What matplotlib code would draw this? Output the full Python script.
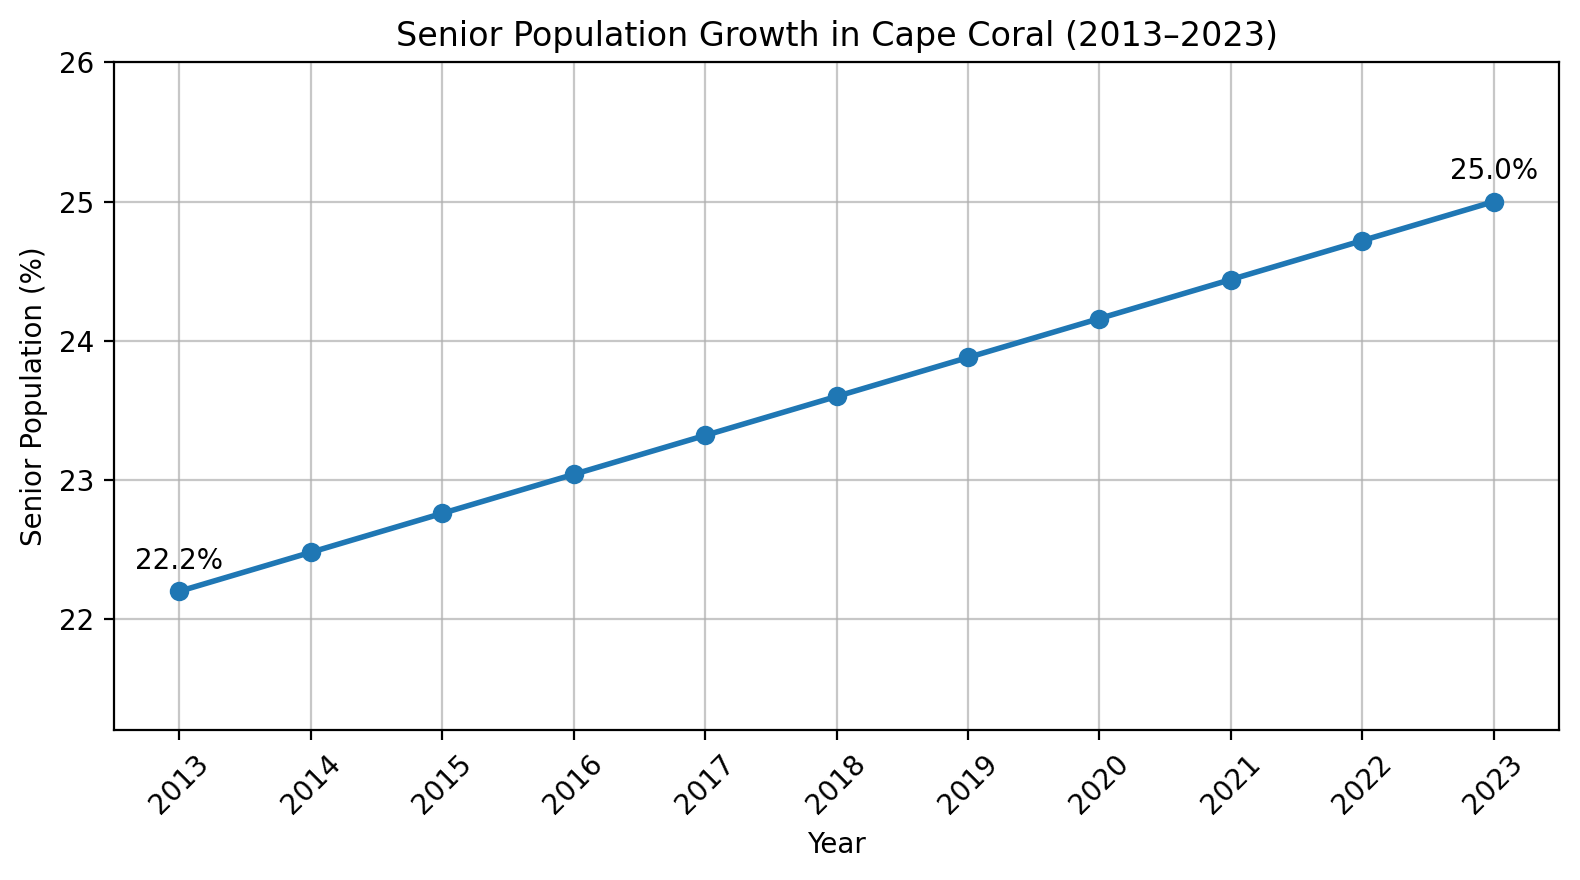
import matplotlib
matplotlib.use("Agg")
import matplotlib.pyplot as plt

anos = [2013, 2014, 2015, 2016, 2017, 2018, 2019, 2020, 2021, 2022, 2023]
percentual = [22.2, 22.48, 22.76, 23.04, 23.32, 23.6, 23.88, 24.16, 24.44, 24.72, 25.0]


def gerar_grafico():
    fig, ax = plt.subplots(figsize=(7.9, 4.4), dpi=200)
    ax.plot(anos, percentual, marker="o", linewidth=2, markersize=6, color="#1f77b4")

    # rotulos so no primeiro e no ultimo ponto
    for i in (0, len(anos) - 1):
        ax.annotate(f"{percentual[i]:.1f}%", (anos[i], percentual[i]),
                    textcoords="offset points", xytext=(0, 8), ha="center")

    ax.set_title("Senior Population Growth in Cape Coral (2013\u20132023)")
    ax.set_xlabel("Year")
    ax.set_ylabel("Senior Population (%)")
    ax.set_xticks(anos)
    ax.set_xticklabels([str(a) for a in anos], rotation=45)
    ax.set_ylim(min(percentual) - 1, max(percentual) + 1)
    ax.grid(True, alpha=0.7)
    fig.subplots_adjust(left=0.072, right=0.987, top=0.929, bottom=0.170)
    fig.savefig("out.png")
    plt.close(fig)


if __name__ == "__main__":
    gerar_grafico()
